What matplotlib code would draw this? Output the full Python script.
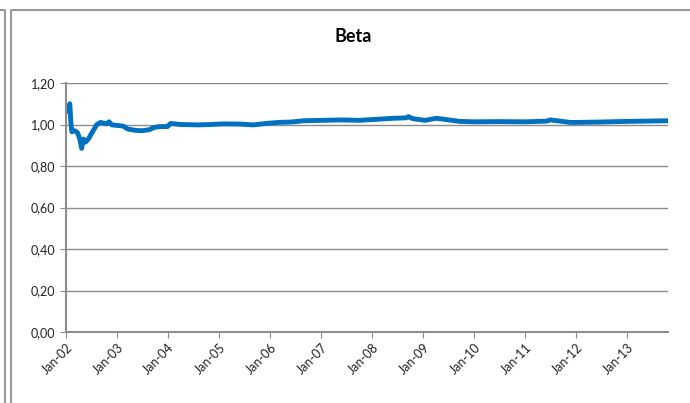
import matplotlib
matplotlib.use("Agg")
import matplotlib.pyplot as plt
import matplotlib.dates as mdates
from matplotlib.lines import Line2D
import pandas as pd

# beta values
dates = [
    "2002-01-04", "2002-01-20", "2002-01-28", "2002-02-06", "2002-02-12",
    "2002-03-05", "2002-03-25", "2002-04-10", "2002-04-23", "2002-05-05",
    "2002-05-20", "2002-06-10", "2002-07-10", "2002-08-10", "2002-09-05",
    "2002-10-20", "2002-11-05", "2002-11-25", "2003-01-10", "2003-02-15",
    "2003-03-20", "2003-05-10", "2003-07-01", "2003-08-20", "2003-09-20",
    "2003-11-01", "2003-12-28", "2004-01-20", "2004-04-01", "2004-08-01",
    "2004-11-01", "2005-02-01", "2005-06-01", "2005-09-01", "2005-12-01",
    "2006-03-01", "2006-06-01", "2006-09-01", "2007-01-01", "2007-06-01",
    "2007-10-01", "2008-02-01", "2008-06-01", "2008-09-01", "2008-09-17",
    "2008-10-20", "2009-01-15", "2009-04-05", "2009-09-20", "2010-01-01",
    "2010-07-01", "2011-01-01", "2011-06-01", "2011-07-01", "2011-11-20",
    "2012-01-01", "2012-07-01", "2013-01-01", "2013-10-15",
]
beta = [
    1.066, 1.085, 1.100, 1.000, 0.965,
    0.970, 0.960, 0.930, 0.885, 0.930,
    0.915, 0.930, 0.965, 1.000, 1.010,
    1.003, 1.013, 0.998, 0.995, 0.992,
    0.978, 0.972, 0.970, 0.975, 0.985,
    0.990, 0.990, 1.005, 1.000, 0.998,
    1.000, 1.003, 1.002, 0.998, 1.005,
    1.010, 1.012, 1.018, 1.020, 1.022,
    1.020, 1.025, 1.030, 1.032, 1.038,
    1.028, 1.020, 1.030, 1.015, 1.013,
    1.014, 1.013, 1.016, 1.022, 1.010,
    1.010, 1.012, 1.015, 1.018,
]
x = pd.to_datetime(dates)

yticks = [0.0, 0.2, 0.4, 0.6, 0.8, 1.0, 1.2]
tick_years = list(range(2002, 2014))

plt.rcParams["font.family"] = ["Lato", "DejaVu Sans"]

fig = plt.figure(figsize=(6.9, 4.03), dpi=100)
ax = fig.add_axes([66 / 690, 1 - 332 / 403, (668 - 66) / 690, (332 - 83) / 403])

ax.plot(x, beta, color="#0070C0", lw=3.5, solid_joinstyle="round")

ax.set_ylim(0, 1.2)
ax.set_yticks(yticks)
ax.set_yticklabels([f"{v:.2f}".replace(".", ",") for v in yticks])
ax.set_xlim(pd.Timestamp("2002-01-01"), pd.Timestamp("2013-10-20"))
ax.set_xticks([pd.Timestamp(f"{y}-01-01") for y in tick_years])
ax.xaxis.set_major_formatter(mdates.DateFormatter("%b-%y"))

ax.grid(axis="y", color="#8c8c8c", lw=1)
ax.set_axisbelow(True)
for s in ["top", "right"]:
    ax.spines[s].set_visible(False)
for s in ["left", "bottom"]:
    ax.spines[s].set_color("#8c8c8c")
    ax.spines[s].set_linewidth(1.5)
ax.tick_params(axis="both", colors="#8c8c8c", labelcolor="#222222",
               labelsize=9, length=4)
ax.tick_params(axis="x", pad=3)
for lbl in ax.get_xticklabels():
    lbl.set_rotation(45)
    lbl.set_ha("right")
    lbl.set_rotation_mode("anchor")

fig.text(353 / 690, 1 - 37 / 403, "Beta", ha="center", va="center",
         fontsize=13, fontweight="bold")

# frame lines of the spreadsheet chart object
gray = "#999999"
fig.add_artist(Line2D([0, 4.5 / 690, 4.5 / 690], [1 - 9.5 / 403, 1 - 9.5 / 403, 0],
                      transform=fig.transFigure, color=gray, lw=1.5))
fig.add_artist(Line2D([1, 11 / 690, 11 / 690], [1 - 9.5 / 403, 1 - 9.5 / 403, 0],
                      transform=fig.transFigure, color=gray, lw=1.5))

fig.savefig("out.png", dpi=100)
